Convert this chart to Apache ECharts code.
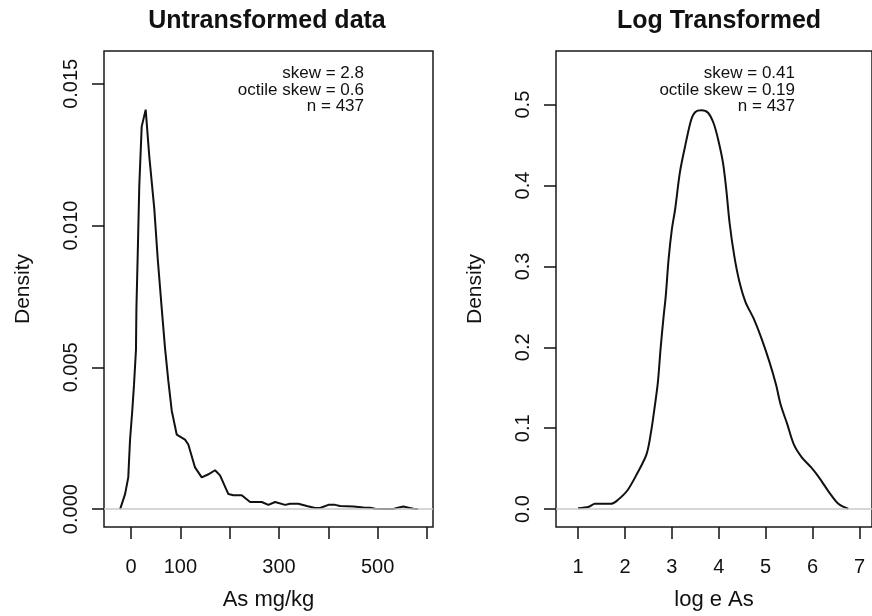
<!DOCTYPE html>
<html>
<head>
<meta charset="utf-8">
<title>Untransformed vs log transformed density</title>
<script src="https://cdn.jsdelivr.net/npm/echarts@6/dist/echarts.min.js"></script>
<style>
  html, body { margin: 0; padding: 0; background: #fff; }
  #chart { width: 872px; height: 616px; }
</style>
</head>
<body>
<div id="chart"></div>
<script>
// density of As (mg/kg)
const asX = [
  -22, -12, -5.5, -2, 2.6, 6.1, 10.1, 11, 13.6, 16.8, 21.7, 29.8, 37.1, 47.3,
  54.2, 62.3, 69, 75.7, 82.6, 92.7, 109.5, 116.2, 129.8, 143.4, 156, 170.4,
  180.5, 197.4, 207.5, 224.5, 241.4, 265.1, 278.5, 292.1, 312.4, 322.5, 339.4,
  356.4, 373.2, 383.4, 400.2, 413.8, 423.9, 450.9, 471.2, 484.8, 494.9, 515,
  531, 538.9, 552.3, 562.5, 572.6, 582
];
const asDensity = [
  0, 0.00053, 0.00112, 0.00242, 0.00347, 0.00438, 0.00561, 0.00708, 0.00894,
  0.01139, 0.01349, 0.01409, 0.01244, 0.01058, 0.00883, 0.00708, 0.00568,
  0.00452, 0.00347, 0.00263, 0.00245, 0.00228, 0.00147, 0.00112, 0.00122,
  0.00137, 0.00119, 0.00053, 0.00049, 0.00049, 0.00025, 0.00025, 0.00015,
  0.00025, 0.00015, 0.00019, 0.00019, 0.00011, 0.00004, 0.00004, 0.00015,
  0.00015, 0.00011, 0.00009, 0.00006, 0.00005, 0.00001, 0, 0, 0.00004,
  0.00009, 0.00005, 0.00001, 0
];

// density of log e As
const logX = [
  1.0, 1.23, 1.36, 1.7, 1.84, 2.05, 2.25, 2.46, 2.56, 2.63, 2.7, 2.76, 2.82,
  2.87, 2.93, 3.0, 3.07, 3.17, 3.28, 3.41, 3.5, 3.63, 3.77, 3.89, 3.99, 4.09,
  4.16, 4.23, 4.33, 4.44, 4.57, 4.74, 4.91, 5.08, 5.22, 5.32, 5.46, 5.6, 5.77,
  5.97, 6.14, 6.35, 6.55, 6.76
];
const logDensity = [
  0.001, 0.003, 0.0065, 0.0065, 0.011, 0.023, 0.043, 0.068, 0.097, 0.125,
  0.156, 0.199, 0.236, 0.264, 0.309, 0.346, 0.371, 0.416, 0.448, 0.481, 0.491,
  0.493, 0.49, 0.477, 0.456, 0.428, 0.395, 0.354, 0.313, 0.281, 0.256, 0.236,
  0.211, 0.182, 0.154, 0.129, 0.105, 0.08, 0.064, 0.0515, 0.039, 0.021,
  0.0065, 0.0004
];

const asTicks = [0, 100, 200, 300, 400, 500, 600];
const asTickLabels = [0, 100, 300, 500];
const asDensityTicks = [0, 0.005, 0.01, 0.015];
const logTicks = [1, 2, 3, 4, 5, 6, 7];
const logDensityTicks = [0, 0.1, 0.2, 0.3, 0.4, 0.5];

const stats = [
  ['skew = 2.8', 'octile skew = 0.6', 'n = 437'],
  ['skew = 0.41', 'octile skew = 0.19', 'n = 437']
];

const FONT = '"Liberation Sans", Arial, Helvetica, sans-serif';
const INK = '#111';

function zip(xs, ys) {
  return xs.map((x, i) => [x, ys[i]]);
}

function xAxisOf(gridIndex, min, max, ticks, labels, name) {
  return {
    type: 'value',
    gridIndex: gridIndex,
    min: min,
    max: max,
    name: name,
    nameLocation: 'middle',
    nameGap: 62,
    nameTextStyle: { color: INK, fontSize: 22, fontFamily: FONT },
    axisLine: { show: false, onZero: false },
    axisTick: { show: true, length: 12, customValues: ticks, lineStyle: { color: INK, width: 1.5 } },
    axisLabel: { show: true, customValues: labels, margin: 30, color: INK, fontSize: 20, fontFamily: FONT },
    splitLine: { show: false }
  };
}

function yAxisOf(gridIndex, min, max, ticks, digits) {
  return {
    type: 'value',
    gridIndex: gridIndex,
    min: min,
    max: max,
    name: 'Density',
    nameLocation: 'middle',
    nameRotate: 90,
    nameGap: 70,
    nameTextStyle: { color: INK, fontSize: 21, fontFamily: FONT },
    axisLine: { show: false, onZero: false },
    axisTick: { show: true, length: 12, customValues: ticks, lineStyle: { color: INK, width: 1.5 } },
    axisLabel: {
      show: true,
      customValues: ticks,
      rotate: 90,
      margin: 23,
      color: INK,
      fontSize: 20,
      fontFamily: FONT,
      formatter: (v) => v.toFixed(digits)
    },
    splitLine: { show: false }
  };
}

function curve(xIdx, data, smooth) {
  return {
    type: 'line',
    xAxisIndex: xIdx,
    yAxisIndex: xIdx,
    data: data,
    showSymbol: false,
    smooth: smooth,
    lineStyle: { color: INK, width: 2 },
    // zero line goes on top of the curve, as in R
    markLine: {
      silent: true,
      symbol: ['none', 'none'],
      label: { show: false },
      lineStyle: { color: '#c8c8c8', width: 1.5, type: 'solid' },
      data: [{ yAxis: 0 }]
    }
  };
}

function statText(x, lines) {
  const ys = [73.5, 90.5, 106.5];
  return lines.map((t, i) => ({
    type: 'text',
    x: x,
    y: ys[i],
    style: { text: t, fill: INK, font: '17px ' + FONT, textAlign: 'right', textVerticalAlign: 'middle' }
  }));
}

function titleText(x, t) {
  return {
    type: 'text',
    x: x,
    y: 21,
    style: { text: t, fill: INK, font: 'bold 25px ' + FONT, textAlign: 'center', textVerticalAlign: 'middle' }
  };
}

const chart = echarts.init(document.getElementById('chart'));

chart.setOption({
  animation: false,
  backgroundColor: '#fff',
  grid: [
    { left: 104, top: 51, width: 329, height: 479, show: true, borderColor: '#1a1a1a', borderWidth: 1.5, backgroundColor: 'transparent' },
    { left: 556, top: 51, width: 329, height: 479, show: true, borderColor: '#1a1a1a', borderWidth: 1.5, backgroundColor: 'transparent' }
  ],
  xAxis: [
    xAxisOf(0, -54.7, 612.2, asTicks, asTickLabels, 'As mg/kg'),
    xAxisOf(1, 0.529, 7.267, logTicks, logTicks, 'log e As')
  ],
  yAxis: [
    yAxisOf(0, -0.000631, 0.016157, asDensityTicks, 3),
    yAxisOf(1, -0.0221, 0.5663, logDensityTicks, 1)
  ],
  series: [
    curve(0, zip(asX, asDensity), false),
    curve(1, zip(logX, logDensity), 0.3)
  ],
  graphic: [
    titleText(267, 'Untransformed data'),
    titleText(719, 'Log Transformed')
  ].concat(statText(364, stats[0]), statText(795, stats[1]))
});
</script>
</body>
</html>
